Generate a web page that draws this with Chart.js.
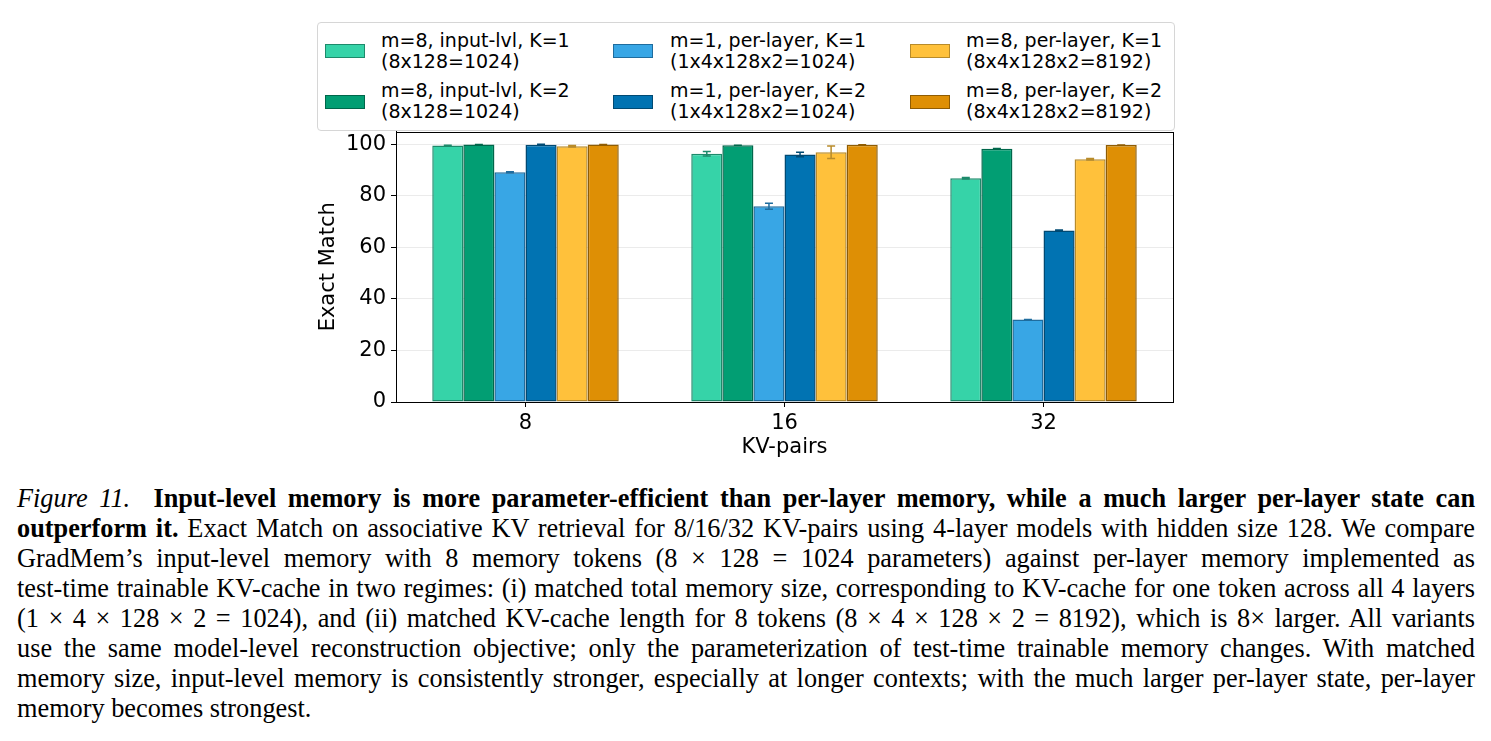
<!DOCTYPE html>
<html>
<head>
<meta charset="utf-8">
<script src="https://cdn.jsdelivr.net/npm/chart.js@4/dist/chart.umd.min.js"></script>
<style>
body { margin:0; background:#fff; width:1491px; height:741px; position:relative; overflow:hidden; }
#wrap { position:absolute; left:300px; top:114px; width:890px; height:356px; }
#leyenda { position:absolute; left:317px; top:22px; width:856px; height:107px; border:1px solid #d6d6d6; border-radius:4px; background:#fff; }
.parche { position:absolute; width:38px; height:12px; border:1px solid; }
.texto { position:absolute; font-family:"DejaVu Sans"; font-size:19px; line-height:21px; color:#000; white-space:nowrap; }
#pie { position:absolute; left:17px; top:484px; width:1458px; font-family:"Liberation Serif"; font-size:26.3px; line-height:30px; color:#000; }
#pie div { text-align:justify; text-align-last:justify; height:30px; }
#pie div.ultima { text-align-last:left; }
</style>
</head>
<body>
<div id="leyenda"></div>
<div id="wrap"><canvas id="myChart_kv" width="890" height="356"></canvas></div>
<div id="pie">
<div><i>Figure 11.</i>&nbsp; <b>Input-level memory is more parameter-efficient than per-layer memory, while a much larger per-layer state can</b></div>
<div><b>outperform it.</b> Exact Match on associative KV retrieval for 8/16/32 KV-pairs using 4-layer models with hidden size 128. We compare</div>
<div>GradMem’s input-level memory with 8 memory tokens (8 × 128 = 1024 parameters) against per-layer memory implemented as</div>
<div>test-time trainable KV-cache in two regimes: (i) matched total memory size, corresponding to KV-cache for one token across all 4 layers</div>
<div>(1 × 4 × 128 × 2 = 1024), and (ii) matched KV-cache length for 8 tokens (8 × 4 × 128 × 2 = 8192), which is 8× larger. All variants</div>
<div>use the same model-level reconstruction objective; only the parameterization of test-time trainable memory changes. With matched</div>
<div>memory size, input-level memory is consistently stronger, especially at longer contexts; with the much larger per-layer state, per-layer</div>
<div class="ultima">memory becomes strongest.</div>
</div>
<script>
//// DATOS
var kv_pares = ["8", "16", "32"];
var ticks_y = [0, 20, 40, 60, 80, 100];
var etiquetas = [
	["m=8, input-lvl, K=1", "(8x128=1024)"],
	["m=8, input-lvl, K=2", "(8x128=1024)"],
	["m=1, per-layer, K=1", "(1x4x128x2=1024)"],
	["m=1, per-layer, K=2", "(1x4x128x2=1024)"],
	["m=8, per-layer, K=1", "(8x4x128x2=8192)"],
	["m=8, per-layer, K=2", "(8x4x128x2=8192)"]
];
var input_k1 = [99.6, 96.4, 86.9];
var input_k2 = [100, 99.7, 98.3];
var m1_k1 = [89.2, 76.0, 32.0];
var m1_k2 = [99.9, 96.1, 66.6];
var m8_k1 = [99.3, 97.0, 94.3];
var m8_k2 = [100, 99.9, 99.8];
var err_input_k1 = [0.1, 0.9, 0.3];
var err_input_k2 = [0, 0, 0.1];
var err_m1_k1 = [0.2, 1.2, 0];
var err_m1_k2 = [0.2, 0.9, 0.2];
var err_m8_k1 = [0.3, 2.4, 0.3];
var err_m8_k2 = [0, 0, 0];

var rellenos = ["#36d3a8", "#029e73", "#38a6e5", "#0173b2", "#ffc13b", "#de8f05"];
var bordes = ["#1d8a6b", "#00674b", "#1f6c9e", "#014a73", "#b88b2a", "#8f5c03"];
var series = [input_k1, input_k2, m1_k1, m1_k2, m8_k1, m8_k2];
var errores = [err_input_k1, err_input_k2, err_m1_k1, err_m1_k2, err_m8_k1, err_m8_k2];

var datasets = [];
for (var i = 0; i < series.length; i++) {
	datasets.push({
		label: etiquetas[i].join(" "),
		data: series[i],
		err: errores[i],
		backgroundColor: rellenos[i],
		borderColor: bordes[i],
		borderWidth: 1.5,
		borderSkipped: false,
		categoryPercentage: 0.72,
		barPercentage: 1.0
	});
}

//// LEYENDA (columnas primero, como matplotlib)
var ley = document.getElementById("leyenda");
var parche_x = [7, 295, 592];
var texto_x = [63, 352, 648];
for (var i = 0; i < datasets.length; i++) {
	var col = Math.floor(i / 2), fila = i % 2;
	var p = document.createElement("div");
	p.className = "parche";
	p.style.left = parche_x[col] + "px";
	p.style.top = (21 + fila * 51) + "px";
	p.style.background = rellenos[i];
	p.style.borderColor = bordes[i];
	ley.appendChild(p);
	var t = document.createElement("div");
	t.className = "texto";
	t.style.left = texto_x[col] + "px";
	t.style.top = (7 + fila * 50) + "px";
	t.innerHTML = etiquetas[i][0] + "<br>" + etiquetas[i][1];
	ley.appendChild(t);
}

//// BARRAS DE ERROR Y MARCO
var barras_error = {
	id: "barras_error",
	afterDatasetsDraw: function (chart) {
		var ctx = chart.ctx, y = chart.scales.y;
		chart.data.datasets.forEach(function (ds, d) {
			var meta = chart.getDatasetMeta(d);
			meta.data.forEach(function (bar, j) {
				var v = ds.data[j], e = ds.err[j];
				var y1 = y.getPixelForValue(v - e), y2 = y.getPixelForValue(v + e);
				ctx.save();
				ctx.strokeStyle = bordes[d];
				ctx.lineWidth = 1.5;
				ctx.beginPath();
				ctx.moveTo(bar.x, y1); ctx.lineTo(bar.x, y2);
				ctx.moveTo(bar.x - 4, y1); ctx.lineTo(bar.x + 4, y1);
				ctx.moveTo(bar.x - 4, y2); ctx.lineTo(bar.x + 4, y2);
				ctx.stroke();
				ctx.restore();
			});
		});
		var a = chart.chartArea;
		ctx.save();
		ctx.strokeStyle = "#000";
		ctx.lineWidth = 1;
		ctx.strokeRect(Math.round(a.left) + 0.5, Math.round(a.top) + 0.5, Math.round(a.right - a.left), Math.round(a.bottom - a.top));
		ctx.restore();
	}
};

var fuente = { family: "DejaVu Sans", size: 21 };
var ctx_kv = document.getElementById("myChart_kv").getContext("2d");
var myBarChart = new Chart(ctx_kv, {
	type: "bar",
	data: { labels: kv_pares, datasets: datasets },
	options: {
		responsive: false,
		animation: false,
		layout: { padding: { top: 0, right: 17, left: 0, bottom: 0 } },
		plugins: { legend: { display: false }, tooltip: { enabled: false } },
		scales: {
			x: {
				grid: { offset: false, color: "rgba(0,0,0,0)", drawOnChartArea: false, tickColor: "#000", tickLength: 5 },
				border: { color: "#000", width: 1 },
				ticks: { color: "#000", font: fuente, padding: 4 },
				title: { display: true, text: "KV-pairs", color: "#000", font: fuente, padding: { top: 0, bottom: 10 } },
				afterFit: function (s) { s.height = 68; }
			},
			y: {
				min: 0, max: 105,
				grid: { color: "#ebebeb", tickColor: "#000", tickLength: 5 },
				border: { color: "#000", width: 1 },
				ticks: { color: "#000", font: fuente, padding: 5 },
				afterBuildTicks: function (s) { s.ticks = ticks_y.map(function (v) { return { value: v }; }); },
				title: { display: true, text: "Exact Match", color: "#000", font: fuente, padding: { top: 16, bottom: 0 } },
				afterFit: function (s) { s.width = 96; }
			}
		}
	},
	plugins: [barras_error]
});
</script>
</body>
</html>
